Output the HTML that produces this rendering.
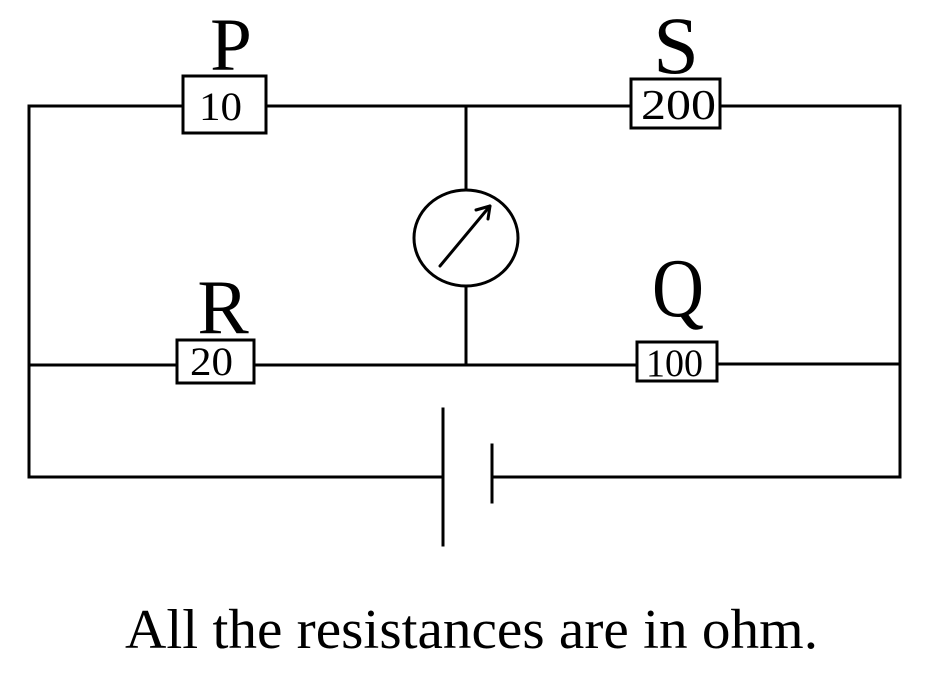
<!DOCTYPE html>
<html>
<head>
<meta charset="utf-8">
<style>
  html, body { margin: 0; padding: 0; background: #ffffff; }
  body { width: 938px; height: 699px; overflow: hidden; }
  svg { display: block; }
  text { font-family: "Liberation Serif", serif; fill: #000; }
</style>
</head>
<body>
<svg width="938" height="699" viewBox="0 0 938 699" xmlns="http://www.w3.org/2000/svg">
  <g stroke="#000" stroke-width="3" fill="none" stroke-linecap="square">
    <!-- top wire -->
    <line x1="29" y1="106" x2="183" y2="106"/>
    <line x1="266" y1="106" x2="631" y2="106"/>
    <line x1="720" y1="106" x2="900" y2="106"/>
    <!-- left / right verticals -->
    <line x1="29" y1="106" x2="29" y2="477"/>
    <line x1="900" y1="106" x2="900" y2="477"/>
    <!-- middle wire -->
    <line x1="29" y1="365" x2="177" y2="365"/>
    <line x1="254" y1="365" x2="637" y2="365"/>
    <line x1="717" y1="364" x2="900" y2="364"/>
    <!-- bottom wire -->
    <line x1="29" y1="477" x2="443" y2="477"/>
    <line x1="492" y1="477" x2="900" y2="477"/>
    <!-- battery -->
    <line x1="443" y1="409" x2="443" y2="545"/>
    <line x1="492" y1="445" x2="492" y2="502"/>
    <!-- galvanometer branch -->
    <line x1="466" y1="106" x2="466" y2="190"/>
    <line x1="466" y1="286" x2="466" y2="365"/>
    <ellipse cx="466" cy="238" rx="52" ry="48"/>
    <line x1="440" y1="266" x2="490" y2="206" stroke-linecap="round"/>
    <polyline points="476,210 490,206 488,219" stroke-linecap="round" stroke-linejoin="round"/>
    <!-- resistor boxes -->
    <rect x="183" y="76" width="83" height="57" fill="#fff"/>
    <rect x="631" y="79" width="89" height="49" fill="#fff"/>
    <rect x="177" y="340" width="77" height="43" fill="#fff"/>
    <rect x="637" y="342" width="80" height="39" fill="#fff"/>
  </g>

  <!-- letters -->
  <text x="231" y="70" font-size="75" text-anchor="middle">P</text>
  <text x="676" y="73" font-size="82" text-anchor="middle">S</text>
  <text x="223" y="333" font-size="77" text-anchor="middle">R</text>
  <text x="678" y="316" font-size="84" text-anchor="middle" textLength="52" lengthAdjust="spacingAndGlyphs">Q</text>

  <!-- values -->
  <text x="220.5" y="120" font-size="40" text-anchor="middle" textLength="43" lengthAdjust="spacingAndGlyphs">10</text>
  <text x="678.5" y="119" font-size="42" text-anchor="middle" textLength="75" lengthAdjust="spacingAndGlyphs">200</text>
  <text x="211.5" y="375" font-size="40" text-anchor="middle" textLength="43" lengthAdjust="spacingAndGlyphs">20</text>
  <text x="674.5" y="376" font-size="39" text-anchor="middle" textLength="57" lengthAdjust="spacingAndGlyphs">100</text>

  <!-- caption -->
  <text x="125" y="648" font-size="56" textLength="693" lengthAdjust="spacingAndGlyphs">All the resistances are in ohm.</text>
</svg>
</body>
</html>
